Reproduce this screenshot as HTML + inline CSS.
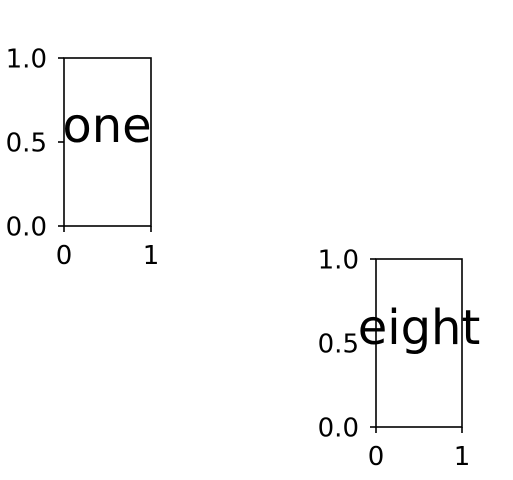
<!DOCTYPE html>
<html><head><meta charset="utf-8"><style>
html,body{margin:0;padding:0;background:#fff;}
svg{display:block;font-family:"DejaVu Sans","Liberation Sans",sans-serif;}
</style></head><body>
<svg id="fig" width="513" height="480" viewBox="0 0 513 480" xmlns="http://www.w3.org/2000/svg"></svg>
<script>
const xTicks = [0, 1];
const yTicks = [0.0, 0.5, 1.0];
const yTickLabels = ["0.0", "0.5", "1.0"];
const panelNames = ["one", "eight"];
const panels = [
  {name: "one", x0: 64, x1: 151, y0: 226, y1: 58, cx: 107, cy: 126},
  {name: "eight", x0: 376, x1: 462, y0: 427, y1: 259, cx: 419, cy: 328}
];
const NS = "http://www.w3.org/2000/svg";
const svg = document.getElementById('fig');
function mk(tag, attrs, parent) {
  const e = document.createElementNS(NS, tag);
  for (const k in attrs) e.setAttribute(k, attrs[k]);
  parent.appendChild(e);
  return e;
}
panels.forEach((p, i) => {
  const g = mk('g', {}, svg);
  
  
  const sx = v => p.x0 + v * (p.x1 - p.x0);
  const sy = v => p.y0 + v * (p.y1 - p.y0);
  const frame = mk('rect', {x: p.x0, y: p.y1, width: p.x1 - p.x0, height: p.y0 - p.y1, fill: 'none', stroke: '#000', 'stroke-width': 1.6}, g);
  
  
  xTicks.forEach(t => {
    const x = sx(t);
    const tk = mk('line', {x1: x, x2: x, y1: p.y0, y2: p.y0 + 6, stroke: '#000', 'stroke-width': 1.6}, g);
    
    
    const tl = mk('text', {x: x, y: p.y0 + 38, 'text-anchor': 'middle', 'font-size': 26}, g);
    tl.textContent = String(t);
    
    
  });
  yTicks.forEach((t, j) => {
    const y = sy(t);
    const tk = mk('line', {x1: p.x0 - 6, x2: p.x0, y1: y, y2: y, stroke: '#000', 'stroke-width': 1.6}, g);
    
    
    const tl = mk('text', {x: p.x0 - 17, y: y + 9.5, 'text-anchor': 'end', 'font-size': 26}, g);
    tl.textContent = yTickLabels[j];
    
    
  });
  const lbl = mk('text', {x: p.cx, y: p.cy + 16, 'text-anchor': 'middle', 'font-size': 48}, g);
  lbl.textContent = panelNames[i];
  
  
});
</script>
</body></html>
